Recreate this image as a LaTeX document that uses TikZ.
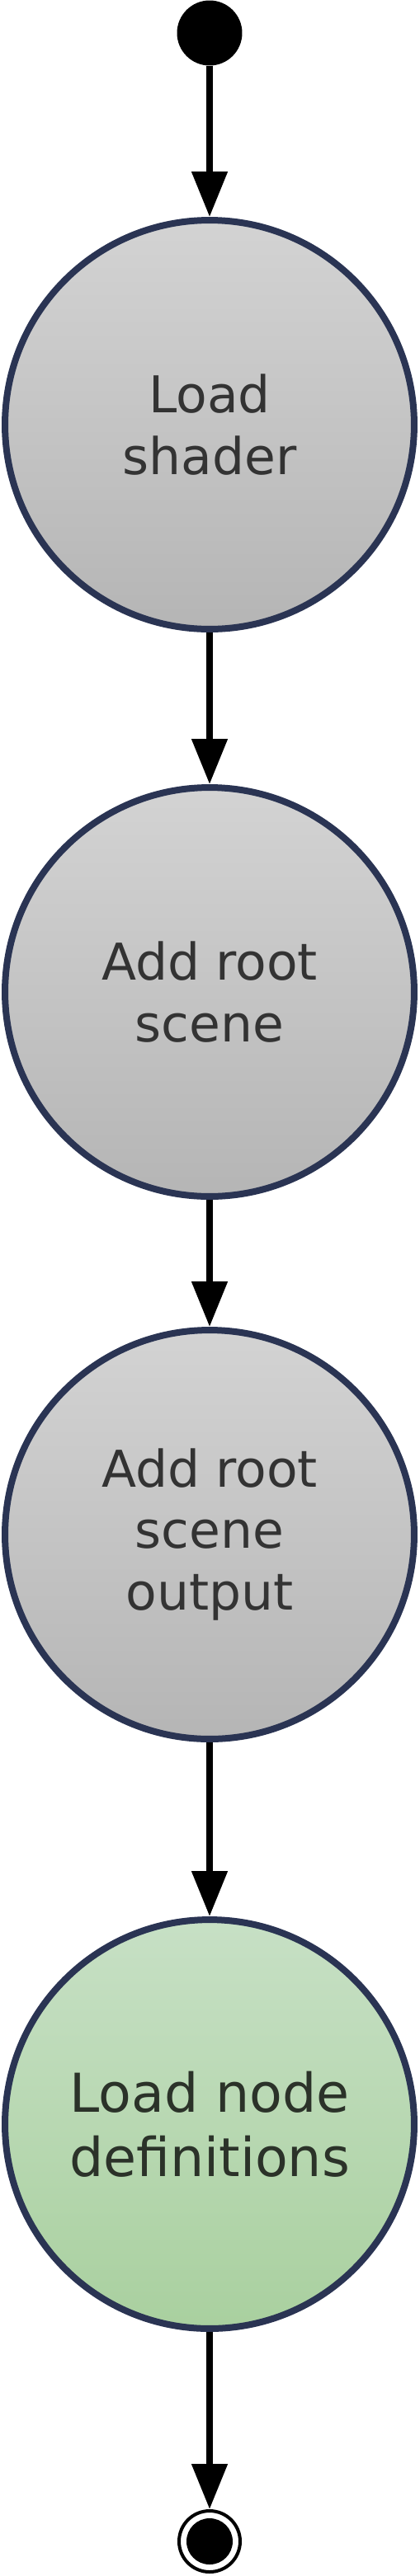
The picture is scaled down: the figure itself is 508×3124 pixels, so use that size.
\documentclass[tikz,border=0pt]{standalone}
\usepackage{fontspec}
\setmainfont{DejaVu Sans}
\usetikzlibrary{arrows.meta}
\definecolor{ringblue}{HTML}{2A3453}
\definecolor{greytop}{HTML}{D3D3D3}
\definecolor{greybot}{HTML}{B5B5B5}
\definecolor{greentop}{HTML}{C7E0C5}
\definecolor{greenbot}{HTML}{A9D09F}
\definecolor{textgrey}{HTML}{333333}
\definecolor{textgreen}{HTML}{2B3229}

\tikzset{
  activity/.style={circle,draw=ringblue,line width=0.16cm,minimum size=9.92cm,inner sep=0pt,
    align=center,font=\fontsize{35pt}{42.5pt}\selectfont,text=textgrey,
    top color=greytop,bottom color=greybot},
  lastactivity/.style={activity,font=\fontsize{37pt}{44.2pt}\selectfont,text=textgreen,
    top color=greentop,bottom color=greenbot},
  initial/.style={circle,fill=black,minimum size=1.58cm,inner sep=0pt},
  final/.style={circle,draw=black,line width=0.08cm,minimum size=1.48cm,inner sep=0pt,
    path picture={\fill[black] (path picture bounding box.center) circle (0.56cm);}},
  flow/.style={line width=0.16cm,-{Triangle[length=1.1cm,width=0.84cm]}}
}

\begin{document}
\begin{tikzpicture}[x=0.02cm,y=0.02cm]
  \useasboundingbox (0,0) rectangle (508,-3124);
  \node[initial] (start) at (254,-40) {};
  \node[activity] (shader) at (254,-515) {Load\\shader};
  \node[activity] (scene) at (254,-1203) {Add root\\scene};
  \node[activity] (output) at (254,-1861) {Add root\\scene\\output};
  \node[lastactivity] (defs) at (254,-2576) {Load node\\definitions};
  \node[final] (stop) at (254,-3082) {};
  \draw[flow] (start) -- (shader);
  \draw[flow] (shader) -- (scene);
  \draw[flow] (scene) -- (output);
  \draw[flow] (output) -- (defs);
  \draw[flow] (defs) -- (stop);
\end{tikzpicture}
\end{document}
